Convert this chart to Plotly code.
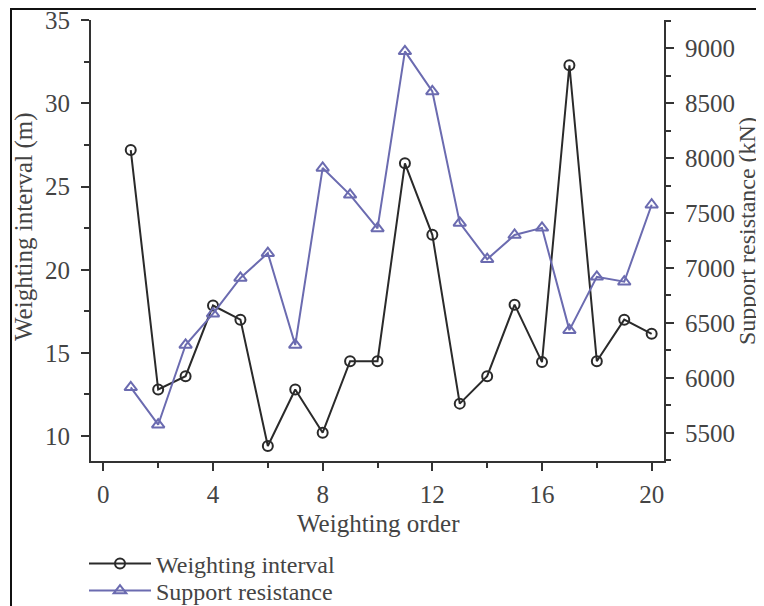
import plotly.graph_objects as go

order = list(range(1, 21))
weighting_interval = [27.2, 12.8, 13.6, 17.85, 17.0, 9.4, 12.8, 10.2, 14.5, 14.5,
                      26.4, 22.1, 11.95, 13.6, 17.9, 14.45, 32.3, 14.5, 17.0, 16.15]
support_resistance = [5915, 5575, 6300, 6585, 6910, 7135, 6300, 7910, 7665, 7360,
                      8970, 8605, 7410, 7080, 7300, 7365, 6435, 6920, 6875, 7575]

x_ticks = [0, 4, 8, 12, 16, 20]
left_ticks = [10, 15, 20, 25, 30, 35]
right_ticks = [5500, 6000, 6500, 7000, 7500, 8000, 8500, 9000]

FONT = "Liberation Serif"
AX = "#333333"
BLUE = "#6b6bb0"
BLACK = "#2a2a2a"
TXT = "#444444"

fig = go.Figure()
fig.add_trace(go.Scatter(
    x=order, y=weighting_interval, name="Weighting interval",
    mode="lines+markers",
    line=dict(color=BLACK, width=2),
    marker=dict(symbol="circle-open", size=10, color=BLACK, line=dict(width=2)),
    yaxis="y", legend="legend"))
fig.add_trace(go.Scatter(
    x=order, y=support_resistance, name="Support resistance",
    mode="lines+markers",
    line=dict(color=BLUE, width=2),
    marker=dict(symbol="triangle-up-open", size=11, color=BLUE, line=dict(width=2)),
    yaxis="y2", legend="legend2"))

# page body adds an 8px offset; work in screen coordinates and convert
OFF = 8
W, H = 764 - OFF, 606 - OFF
# plot area in screen pixels
SX0, SX1, SY0, SY1 = 91, 664, 20, 461
L, R, T, B = SX0 - OFF, (764 - SX1), SY0 - OFF, (606 - SY1)
pw, ph = W - L - R, H - T - B

def px(x):
    return (x - SX0) / pw

def py(y):
    return (SY1 - y) / ph

tickfont = dict(family=FONT, size=25, color=TXT)
legfont = dict(family=FONT, size=24, color=TXT)

fig.update_layout(
    width=W, height=H,
    margin=dict(l=L, r=R, t=T, b=B, pad=0, autoexpand=False),
    paper_bgcolor="white", plot_bgcolor="white",
    font=dict(family=FONT, size=25, color=TXT),
    showlegend=True,
    legend=dict(x=px(84), y=py(564), xanchor="left", yanchor="middle",
                font=legfont, itemwidth=62, bgcolor="rgba(0,0,0,0)"),
    legend2=dict(x=px(84), y=py(591), xanchor="left", yanchor="middle",
                 font=legfont, itemwidth=62, bgcolor="rgba(0,0,0,0)"),
    xaxis=dict(range=[-0.45, 20.45], tickvals=x_ticks, ticks="outside", ticklen=8,
               tickwidth=2, tickcolor=AX, showline=True, linecolor=AX, linewidth=2,
               showgrid=False, zeroline=False, tickfont=tickfont,
               ticklabelstandoff=2,
               minor=dict(dtick=2, tick0=0, ticks="outside", ticklen=5, tickwidth=2,
                          tickcolor=AX, showgrid=False)),
    yaxis=dict(range=[8.5, 35.02], tickvals=left_ticks, ticks="outside", ticklen=8,
               tickwidth=2, tickcolor=AX, showline=True, linecolor=AX, linewidth=2,
               showgrid=False, zeroline=False, tickfont=tickfont,
               ticklabelstandoff=6, ticklabeloverflow="allow",
               minor=dict(dtick=2.5, tick0=0, ticks="outside", ticklen=5, tickwidth=2,
                          tickcolor=AX, showgrid=False)),
    yaxis2=dict(range=[5245, 9255], tickvals=right_ticks, overlaying="y", side="right",
                ticks="outside", ticklen=8, tickwidth=2, tickcolor=AX, showline=True,
                linecolor=AX, linewidth=2, showgrid=False, zeroline=False,
                tickfont=tickfont, ticklabelstandoff=6,
                minor=dict(dtick=250, tick0=0, ticks="outside", ticklen=5, tickwidth=2,
                           tickcolor=AX, showgrid=False)),
    shapes=[dict(type="rect", xref="paper", yref="paper",
                 x0=px(11), x1=px(800), y0=py(700), y1=py(9),
                 line=dict(color="#111111", width=2), fillcolor="rgba(0,0,0,0)")],
    annotations=[
        dict(text="Weighting interval (m)", xref="paper", yref="paper",
             x=px(24), y=py(227), textangle=-90, showarrow=False,
             xanchor="center", yanchor="middle",
             font=dict(family=FONT, size=25, color=TXT)),
        dict(text="Support resistance (kN)", xref="paper", yref="paper",
             x=px(747), y=py(231), textangle=-90, showarrow=False,
             xanchor="center", yanchor="middle",
             font=dict(family=FONT, size=24, color=TXT)),
        dict(text="Weighting order", xref="paper", yref="paper",
             x=px(378), y=py(523), showarrow=False,
             xanchor="center", yanchor="middle",
             font=dict(family=FONT, size=25, color=TXT)),
    ],
)

fig.write_html("out.html")
